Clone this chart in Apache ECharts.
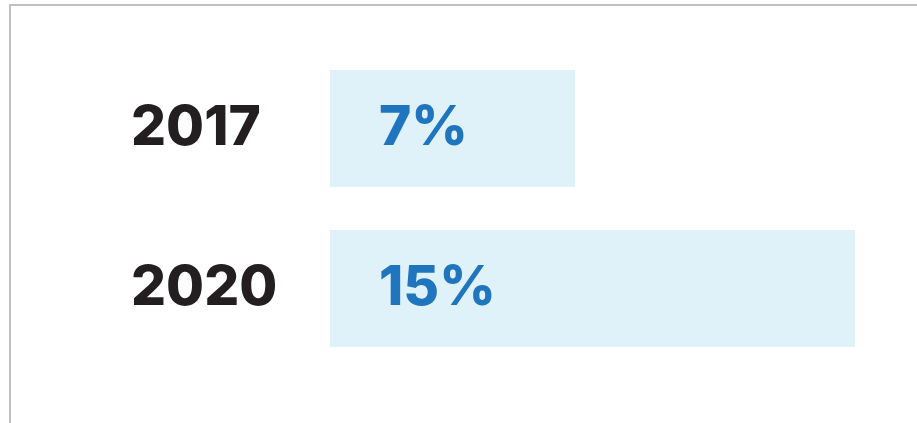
<!DOCTYPE html>
<html>
<head>
<meta charset="utf-8">
<script src="https://cdn.jsdelivr.net/npm/echarts@6/dist/echarts.min.js"></script>
<style>
html,body{margin:0;padding:0;background:#fff;}
#chart{width:917px;height:423px;}
</style>
</head>
<body>
<div id="chart"></div>
<script>
const categories = ['2017', '2020'];
const values = [7, 15];
const valueLabels = ['7%', '15%'];

const chart = echarts.init(document.getElementById('chart'), null, {renderer: 'canvas'});
chart.setOption({
  animation: false,
  backgroundColor: '#ffffff',
  graphic: [
    {type: 'rect', shape: {x: 9, y: 4, width: 908, height: 2}, style: {fill: '#c0c0c0'}, silent: true},
    {type: 'rect', shape: {x: 9, y: 4, width: 2, height: 419}, style: {fill: '#c0c0c0'}, silent: true}
  ],
  grid: {left: 330, right: 6, top: 48.5, bottom: 54.5, containLabel: false},
  xAxis: {
    type: 'value', min: 0, max: 16.6,
    show: false
  },
  yAxis: {
    type: 'category', data: categories, inverse: true,
    axisLine: {show: false}, axisTick: {show: false}, splitLine: {show: false},
    axisLabel: {
      align: 'left', margin: 199, padding: [7, 0, 0, 0],
      color: '#231f20', fontFamily: 'Inter', fontWeight: 800, fontSize: 55
    }
  },
  series: [{
    type: 'bar',
    data: values,
    barWidth: 117,
    itemStyle: {color: '#dff2fa'},
    label: {
      show: true, position: 'insideLeft', distance: 49, padding: [6, 0, 0, 0],
      formatter: p => valueLabels[p.dataIndex],
      color: '#1f75be', fontFamily: 'Inter', fontWeight: 800, fontSize: 55
    }
  }]
});
</script>
</body>
</html>
